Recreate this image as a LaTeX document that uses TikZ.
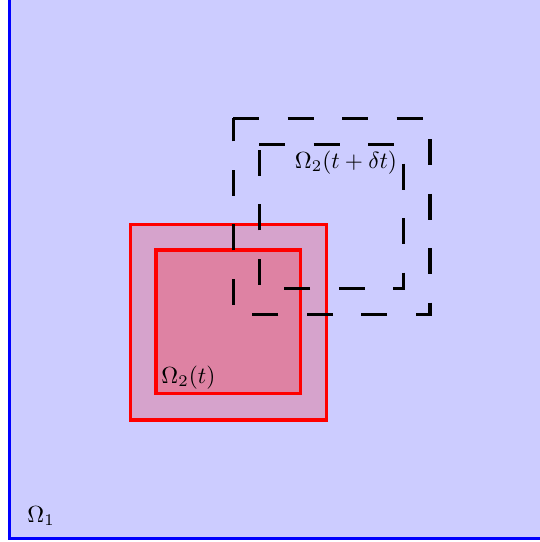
\documentclass[tikz,border=0pt]{standalone}
\begin{document}
\begin{tikzpicture}[x=0.45pt,y=-0.45pt,
  domainone/.style={draw=blue,fill=blue!20,line width=1.5pt},
  redfill/.style={fill=red,fill opacity=0.2},
  redline/.style={draw=red,line width=1.5pt},
  dashbox/.style={draw=black,line width=1.5pt,dash pattern=on 11.7pt off 12.8pt},
  lab/.style={inner sep=0pt,anchor=base west,scale=1.05}]
\useasboundingbox (0,0) rectangle (540,542);
\begin{scope}
\clip (0,0) rectangle (540,542);
\path[domainone] (9.5,538.5) rectangle (600,-60);
\end{scope}
\fill[redfill] (130.7,224.3) rectangle (326.7,420);
\fill[redfill] (156,250) rectangle (300.7,393.3);
\draw[redline] (130.7,224.3) rectangle (326.7,420);
\draw[redline] (156,250) rectangle (300.7,393.3);
\draw[dashbox] (233.3,118.3) -- (430,118.3) -- (430,314.3) -- (233.3,314.3) -- cycle;
\draw[dashbox] (259.3,144.3) -- (403.3,144.3) -- (403.3,288.3) -- (259.3,288.3) -- cycle;
\node[lab] (o1) at (27,522.3) {$\Omega_1$};
\node[lab] (o2) at (161,383.3) {$\Omega_2(t)$};
\node[lab] (o3) at (294.5,168.3) {$\Omega_2(t+\delta t)$};
\end{tikzpicture}
\end{document}
